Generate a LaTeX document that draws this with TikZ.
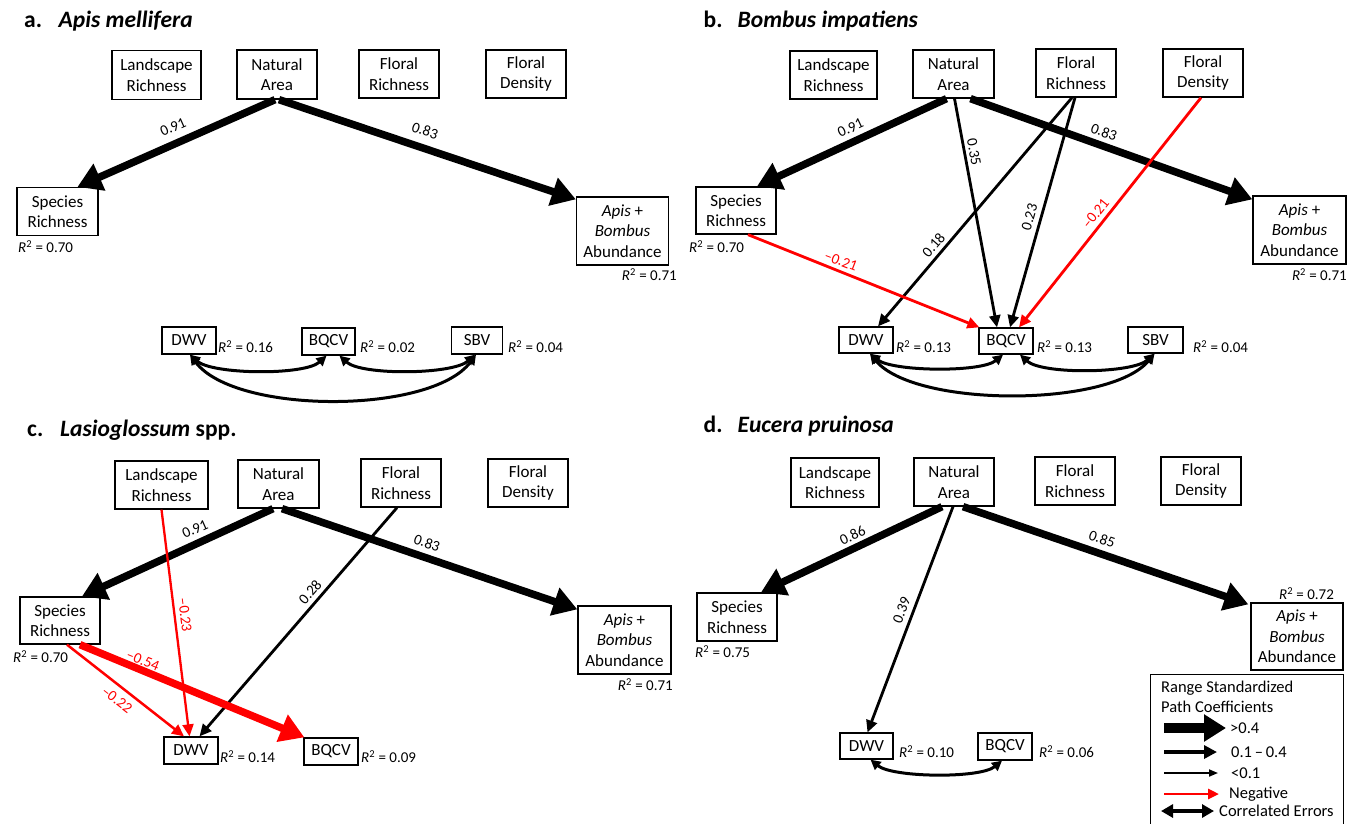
\documentclass[tikz,border=0pt]{standalone}
\usepackage{fontspec}
\setmainfont{Carlito}
\usetikzlibrary{arrows.meta}
\newcommand\Rsq[1]{\textit{R}\textsuperscript{2} = #1}
\begin{document}
\begin{tikzpicture}[x=1pt,y=-1pt,
  box/.style={draw, line width=1.3pt, inner sep=0pt, align=center, font=\fontsize{17}{20.5}\selectfont},
  sz/.style 2 args={minimum width=#1pt, minimum height=#2pt},
  rtwo/.style={inner sep=0pt, font=\fontsize{15}{18}\selectfont},
  coef/.style={inner sep=0pt, font=\fontsize{15}{18}\selectfont},
  ttl/.style={inner sep=0pt, anchor=base west, font=\fontsize{23.5}{27}\selectfont\bfseries},
  lgd/.style={inner sep=0pt, anchor=west, font=\fontsize{16.5}{20}\selectfont},
  bigarr/.style={line width=7.5pt, -{Triangle[length=24pt,width=28pt]}},
  medarr/.style={line width=2.8pt, -{Triangle[length=12pt,width=11pt]}},
  corr/.style={line width=3pt, {Triangle[length=10pt,width=10pt]}-{Triangle[length=10pt,width=10pt]}},
]
\useasboundingbox (0,0) rectangle (1348,823);

% ================= panel a =================
\node[ttl] (aT) at (24,27) {\makebox[34.5pt][l]{a.}\textit{Apis mellifera}};
\node[box, sz={89}{49}] (aLR) at (156.5,75) {Landscape\\Richness};
\node[box, sz={80}{49}] (aNA) at (277,74.5) {Natural\\Area};
\node[box, sz={80}{48}] (aFR) at (399,74) {Floral\\Richness};
\node[box, sz={80}{48}] (aFD) at (526,74) {Floral\\Density};
\node[box, sz={81}{48}] (aSR) at (57.5,211.5) {Species\\Richness};
\node[box, sz={92}{68}] (aAB) at (622.5,231) {\textit{Apis} +\\\textit{Bombus}\\Abundance};
\node[rtwo, anchor=west] (aR1) at (18,247) {\Rsq{0.70}};
\node[rtwo, anchor=east] (aR2) at (677,275) {\Rsq{0.71}};
\node[box, sz={54}{27}] (aDWV) at (189,340.5) {DWV};
\node[box, sz={53}{27}] (aBQCV) at (328.5,341.5) {BQCV};
\node[box, sz={51}{27}] (aSBV) at (477,340.5) {SBV};
\node[rtwo, anchor=west] (aR3) at (218,347) {\Rsq{0.16}};
\node[rtwo, anchor=west] (aR4) at (360,347) {\Rsq{0.02}};
\node[rtwo, anchor=west] (aR5) at (508,347) {\Rsq{0.04}};
\draw[bigarr] ([xshift=-2pt]aNA.south) -- ([xshift=20pt]aSR.north);
\draw[bigarr] ([xshift=2pt]aNA.south) -- ([yshift=-3pt]aAB.north west);
\node[coef, rotate=24] (aC1) at (173,127) {0.91};
\node[coef, rotate=-18.5] (aC2) at (425,130.5) {0.83};
\draw[corr] ([xshift=1pt]aDWV.south) .. controls +(22,20) and +(-22,20) .. ([xshift=-2pt]aBQCV.south);
\draw[corr] ([xshift=11pt]aBQCV.south) .. controls +(22,20) and +(-22,20) .. ([xshift=-2pt]aSBV.south);
\draw[corr] ([xshift=1pt]aDWV.south) .. controls +(45,60) and +(-45,60) .. ([xshift=-1pt]aSBV.south);

% ================= panel b =================
\node[ttl] (bT) at (703.5,27) {\makebox[34pt][l]{b.}\textit{Bombus impatiens}};
\node[box, sz={87}{48}] (bLR) at (833.5,75) {Landscape\\Richness};
\node[box, sz={81}{48}] (bNA) at (953.5,74) {Natural\\Area};
\node[box, sz={80}{48}] (bFR) at (1076,73) {Floral\\Richness};
\node[box, sz={80}{48}] (bFD) at (1203,73) {Floral\\Density};
\node[box, sz={80}{47}] (bSR) at (736,210.5) {Species\\Richness};
\node[box, sz={93}{68}] (bAB) at (1299.5,230) {\textit{Apis} +\\\textit{Bombus}\\Abundance};
\node[rtwo, anchor=west] (bR1) at (689,247) {\Rsq{0.70}};
\node[rtwo, anchor=east] (bR2) at (1347,275) {\Rsq{0.71}};
\node[box, sz={54}{26}] (bDWV) at (866,340) {DWV};
\node[box, sz={54}{26}] (bBQCV) at (1006,341) {BQCV};
\node[box, sz={55}{26}] (bSBV) at (1155.5,340) {SBV};
\node[rtwo, anchor=west] (bR3) at (896,347) {\Rsq{0.13}};
\node[rtwo, anchor=west] (bR4) at (1037,347) {\Rsq{0.13}};
\node[rtwo, anchor=west] (bR5) at (1193,347) {\Rsq{0.04}};
\draw[bigarr] ([xshift=-7pt]bNA.south) -- ([xshift=21pt]bSR.north);
\draw[bigarr] ([xshift=17pt]bNA.south) -- ([yshift=-4pt]bAB.north west);
\draw[medarr] ([xshift=1pt]bNA.south) -- ([xshift=-9pt]bBQCV.north);
\draw[medarr] ([xshift=-4pt]bFR.south) -- ([xshift=12pt]bDWV.north);
\draw[medarr] ([xshift=-1pt]bFR.south) -- ([xshift=4pt]bBQCV.north);
\draw[medarr, red] ([xshift=-2pt]bFD.south) -- ([xshift=13pt]bBQCV.north);
\draw[medarr, red] ([xshift=12pt]bSR.south) -- ([xshift=1pt]bBQCV.north west);
\node[coef, rotate=25] (bC1) at (850.5,128) {0.91};
\node[coef, rotate=-20] (bC2) at (1104,132) {0.83};
\node[coef, rotate=-79.5] (bC3) at (974,152) {0.35};
\node[coef, rotate=49] (bC4) at (933.5,245) {0.18};
\node[coef, rotate=74] (bC5) at (1029.5,217) {0.23};
\node[coef, rotate=51, red] (bC6) at (1095.5,213.5) {–0.21};
\node[coef, rotate=-21, red] (bC7) at (841,261) {–0.21};
\draw[corr] ([xshift=4pt]bDWV.south) .. controls +(22,18) and +(-22,18) .. ([xshift=-3pt]bBQCV.south);
\draw[corr] ([xshift=14pt]bBQCV.south) .. controls +(22,20) and +(-22,20) .. ([xshift=-1pt]bSBV.south);
\draw[corr] ([xshift=4pt]bDWV.south) .. controls +(45,54) and +(-45,54) .. ([xshift=-1pt]bSBV.south);

% ================= panel c =================
\node[ttl] (cT) at (27,436.5) {\makebox[33pt][l]{c.}\textit{Lasioglossum} spp.};
\node[box, sz={93}{48}] (cLR) at (161.5,485) {Landscape\\Richness};
\node[box, sz={81}{48}] (cNA) at (278.5,484) {Natural\\Area};
\node[box, sz={80}{48}] (cFR) at (401,483) {Floral\\Richness};
\node[box, sz={80}{48}] (cFD) at (528,483) {Floral\\Density};
\node[box, sz={80}{47}] (cSR) at (60,620.5) {Species\\Richness};
\node[box, sz={93}{68}] (cAB) at (624.5,640) {\textit{Apis} +\\\textit{Bombus}\\Abundance};
\node[rtwo, anchor=west] (cR1) at (13,657) {\Rsq{0.70}};
\node[rtwo, anchor=east] (cR2) at (673,685) {\Rsq{0.71}};
\node[box, sz={54}{27}] (cDWV) at (191,750.5) {DWV};
\node[box, sz={54}{27}] (cBQCV) at (331,751.5) {BQCV};
\node[rtwo, anchor=west] (cR3) at (220,757) {\Rsq{0.14}};
\node[rtwo, anchor=west] (cR4) at (361,757) {\Rsq{0.09}};
\draw[bigarr] ([xshift=-5.5pt]cNA.south) -- ([xshift=22pt]cSR.north);
\draw[bigarr] ([xshift=3.5pt]cNA.south) -- ([yshift=-4pt]cAB.north west);
\draw[medarr, red, line width=2.3pt] (cLR.south) -- ([xshift=-1.5pt]cDWV.north);
\draw[medarr] ([xshift=-4pt]cFR.south) -- ([xshift=8.5pt]cDWV.north);
\draw[medarr, red, line width=2.5pt] ([xshift=7pt]cSR.south) -- ([xshift=-7pt]cDWV.north);
\draw[bigarr, red] ([xshift=20pt]cSR.south) -- ([xshift=1pt]cBQCV.north west);
\node[coef, rotate=24] (cC1) at (195,529) {0.91};
\node[coef, rotate=-19] (cC2) at (427,543) {0.83};
\node[coef, rotate=-83, red] (cC3) at (185,615) {–0.23};
\node[coef, rotate=49] (cC4) at (310,592) {0.28};
\node[coef, rotate=-37.6, red] (cC5) at (117,700) {–0.22};
\node[coef, rotate=-22, red] (cC6) at (143,660.5) {–0.54};

% ================= panel d =================
\node[ttl] (dT) at (703.5,432.5) {\makebox[34pt][l]{d.}\textit{Eucera pruinosa}};
\node[box, sz={88}{49}] (dLR) at (835,482.5) {Landscape\\Richness};
\node[box, sz={80}{48}] (dNA) at (954,482) {Natural\\Area};
\node[box, sz={80}{48}] (dFR) at (1075,481) {Floral\\Richness};
\node[box, sz={80}{48}] (dFD) at (1201,481) {Floral\\Density};
\node[box, sz={80}{48}] (dSR) at (737,617) {Species\\Richness};
\node[box, sz={92}{67}] (dAB) at (1297,636.5) {\textit{Apis} +\\\textit{Bombus}\\Abundance};
\node[rtwo, anchor=west] (dR1) at (695,652) {\Rsq{0.75}};
\node[rtwo] (dR2) at (1306.5,594) {\Rsq{0.72}};
\node[box, sz={53}{26}] (dDWV) at (866.5,746) {DWV};
\node[box, sz={54}{27}] (dBQCV) at (1005,746.5) {BQCV};
\node[rtwo, anchor=west] (dR3) at (899,752) {\Rsq{0.10}};
\node[rtwo, anchor=west] (dR4) at (1039,752) {\Rsq{0.06}};
\draw[bigarr] ([xshift=-12pt]dNA.south) -- ([xshift=24pt]dSR.north);
\draw[bigarr] ([xshift=9pt]dNA.south) -- ([xshift=-2pt,yshift=-2pt]dAB.north west);
\draw[medarr] ([xshift=-1pt]dNA.south) -- ([xshift=1pt]dDWV.north);
\node[coef, rotate=25] (dC1) at (852.5,535) {0.86};
\node[coef, rotate=-19] (dC2) at (1102,539) {0.85};
\node[coef, rotate=69.3] (dC3) at (901.5,610) {0.39};
\draw[corr] ([xshift=4pt]dDWV.south) .. controls +(22,18) and +(-22,18) .. ([xshift=-3pt]dBQCV.south);

% ================= legend =================
\node[draw, line width=1.3pt, inner sep=0pt, minimum width=193pt, minimum height=160pt, anchor=north west] (legend) at (1150,674) {};
\node[lgd, anchor=north west, align=left, font=\fontsize{16.5}{20}\selectfont] (lgT) at (1161,680.5) {Range Standardized\\Path Coefficients};
\coordinate (l1a) at (1164,728); \coordinate (l1b) at (1226,728);
\coordinate (l2a) at (1164,752); \coordinate (l2b) at (1217,752);
\coordinate (l3a) at (1164,773); \coordinate (l3b) at (1218,773);
\coordinate (l4a) at (1164,794); \coordinate (l4b) at (1219,794);
\coordinate (l5a) at (1161,811); \coordinate (l5b) at (1214,811);
\draw[line width=10pt, -{Triangle[length=22pt,width=26pt]}] (l1a) -- (l1b);
\draw[line width=4.5pt, -{Triangle[length=13pt,width=13pt]}] (l2a) -- (l2b);
\draw[line width=1.8pt, -{Triangle[length=9pt,width=7pt]}] (l3a) -- (l3b);
\draw[line width=2.8pt, red, -{Triangle[length=11pt,width=10pt]}] (l4a) -- (l4b);
\draw[line width=4.5pt, {Triangle[length=12pt,width=13pt]}-{Triangle[length=12pt,width=13pt]}] (l5a) -- (l5b);
\node[lgd] (lg1) at (1230,728) {>0.4};
\node[lgd] (lg2) at (1231,752) {0.1\,–\,0.4};
\node[lgd] (lg3) at (1231,773) {<0.1};
\node[lgd] (lg4) at (1229,794) {Negative};
\node[lgd] (lg5) at (1219,811) {Correlated Errors};
\end{tikzpicture}
\end{document}
